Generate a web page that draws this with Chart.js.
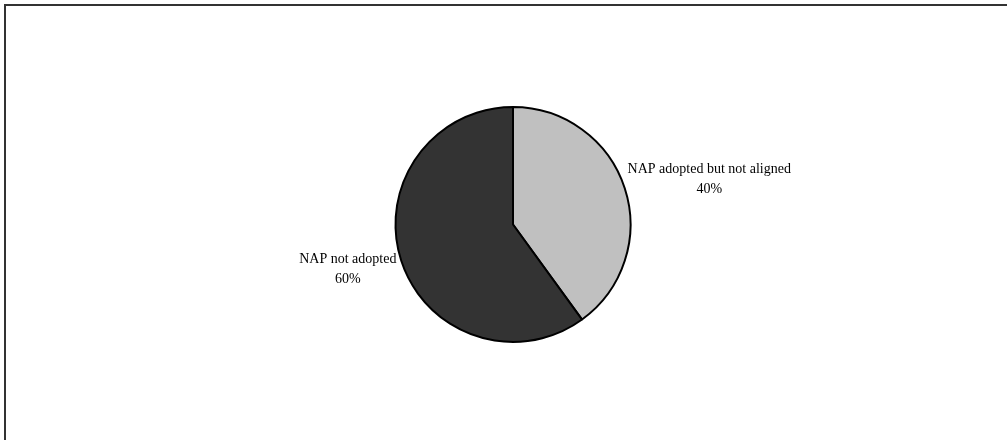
<!DOCTYPE html>
<html lang="en">

<head>
    <meta charset="UTF-8">
    <script src="https://cdn.jsdelivr.net/npm/chart.js"></script>
    <title>NAP</title>
    <style>
        html, body { margin: 0; padding: 0; background: #ffffff; }
        #box { width: 1007px; height: 440px; position: relative; }
    </style>
</head>

<body>
    <div id="box">
        <canvas id="pie"></canvas>
    </div>
</body>

</html>
<script>
    const categorias = ['NAP adopted but not aligned', 'NAP not adopted'];
    const valores = [40, 60];
    const cores = ['#c0c0c0', '#333333'];

    // moldura (so topo e esquerda aparecem na imagem)
    const moldura = {
        id: 'moldura',
        beforeDraw(chart) {
            const ctx = chart.ctx;
            ctx.save();
            ctx.fillStyle = '#ffffff';
            ctx.fillRect(0, 0, chart.width, chart.height);
            ctx.strokeStyle = '#333333';
            ctx.lineWidth = 2;
            ctx.beginPath();
            ctx.moveTo(5, chart.height);
            ctx.lineTo(5, 5);
            ctx.lineTo(chart.width, 5);
            ctx.stroke();
            ctx.restore();
        }
    };

    // rotulos fora das fatias
    const rotulos = {
        id: 'rotulos',
        afterDatasetsDraw(chart) {
            const ctx = chart.ctx;
            const meta = chart.getDatasetMeta(0);
            const total = valores.reduce((a, b) => a + b, 0);
            ctx.save();
            ctx.font = '14px "Liberation Serif", "Times New Roman", serif';
            ctx.fillStyle = '#000000';
            ctx.textBaseline = 'middle';
            ctx.textAlign = 'center';
            meta.data.forEach(function (arc, i) {
                const p = arc.getProps(['x', 'y', 'startAngle', 'endAngle', 'outerRadius'], true);
                const meio = (p.startAngle + p.endAngle) / 2;
                const r = p.outerRadius + 3;
                const ax = p.x + Math.cos(meio) * r;
                const ay = p.y + Math.sin(meio) * r;
                const linhas = [categorias[i], Math.round(valores[i] / total * 100) + '%'];
                const larg = Math.max(...linhas.map(t => ctx.measureText(t).width));
                const cx = Math.cos(meio) >= 0 ? ax + larg / 2 : ax - larg / 2 - 2;
                const cy = ay - (Math.sin(meio) < 0 ? 8 : -8);
                ctx.fillText(linhas[0], cx, cy - 10);
                ctx.fillText(linhas[1], cx, cy + 10);
            });
            ctx.restore();
        }
    };

    const grafico = document.getElementById('pie');

    var pizza = new Chart(grafico, {
        type: 'pie',
        data: {
            labels: categorias,
            datasets: [{
                data: valores,
                backgroundColor: cores,
                borderColor: '#000000',
                borderWidth: 2
            }]
        },
        options: {
            responsive: true,
            maintainAspectRatio: false,
            animation: false,
            layout: {
                padding: { top: 106, bottom: 97, left: 200, right: 181 }
            },
            plugins: {
                legend: { display: false },
                tooltip: { enabled: false }
            }
        },
        plugins: [moldura, rotulos]
    });
</script>
